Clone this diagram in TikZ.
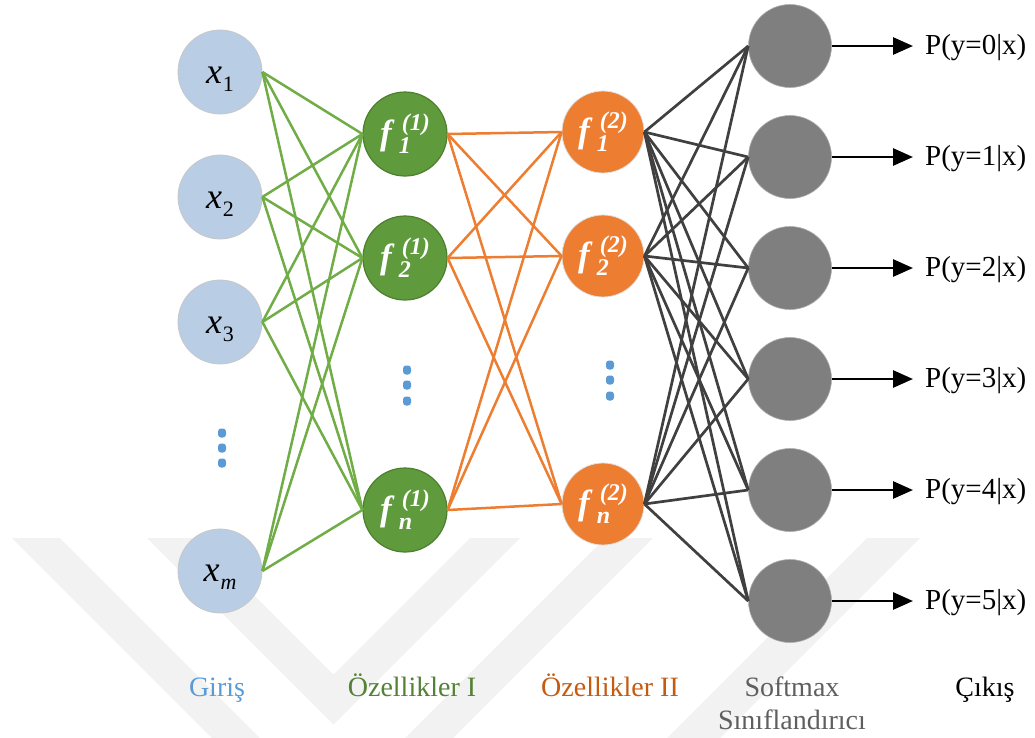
\documentclass[tikz,border=0pt]{standalone}
\usepackage{fontspec}
\setmainfont{Liberation Serif}
\usetikzlibrary{arrows.meta}

\definecolor{inblue}{HTML}{B9CDE5}
\definecolor{fgreen}{HTML}{5F9A3C}
\definecolor{fgreendark}{HTML}{4C7F2E}
\definecolor{lgreen}{HTML}{70AD47}
\definecolor{forange}{HTML}{ED7D31}
\definecolor{sgray}{HTML}{7F7F7F}
\definecolor{dline}{HTML}{404040}
\definecolor{dotblue}{HTML}{5B9BD5}
\definecolor{lblgreen}{HTML}{548235}
\definecolor{lblorange}{HTML}{C55A11}
\definecolor{lblgray}{HTML}{5F5F5F}

% input label x_i
\newcommand{\xin}[1]{{\fontsize{36}{36}\selectfont\itshape x}\kern1pt\raisebox{-8pt}{\fontsize{22}{22}\selectfont #1}}
% feature label f_i^(k)
\newcommand{\feat}[2]{{\fontsize{35}{35}\selectfont\bfseries\itshape f}\kern7pt\rlap{\raisebox{-9pt}{\fontsize{24}{24}\selectfont\bfseries\itshape #1}}\kern3pt\raisebox{14pt}{\fontsize{24}{24}\selectfont\bfseries\itshape (#2)}}

\begin{document}
\begin{tikzpicture}[x=1pt,y=-1pt,
  wm/.style={fill=black!5},
  inp/.style={circle, minimum size=84pt, inner sep=0pt, fill=inblue, draw=black!22, line width=0.8pt, text height=22pt, text depth=0pt},
  inpm/.style={inp, text height=20pt},
  fone/.style={circle, minimum size=84pt, inner sep=0pt, fill=fgreen, draw=fgreendark, line width=1.2pt, text=white},
  ftwo/.style={circle, minimum size=82pt, inner sep=0pt, fill=forange, draw=black!12, line width=0.8pt, text=white},
  soft/.style={circle, minimum size=83pt, inner sep=0pt, fill=sgray, draw=black!32, line width=0.6pt},
  vdot/.style={rounded corners=3pt, minimum width=8pt, minimum height=9pt, inner sep=0pt, fill=dotblue},
  gline/.style={draw=lgreen, line width=2.5pt},
  oline/.style={draw=forange, line width=2.5pt},
  kline/.style={draw=dline, line width=2.7pt},
  outarrow/.style={draw=black, line width=2.8pt, -{Triangle[length=20pt,width=17pt]}},
  plabel/.style={anchor=west, inner sep=0pt, font=\fontsize{29}{29}\selectfont},
  caption/.style={anchor=base, inner sep=0pt, font=\fontsize{28}{33}\selectfont}
]
\useasboundingbox (0,0) rectangle (1035,737);

% faint chevron watermark
\begin{scope}
  \clip (0,0) rectangle (1035,737);
  \fill[wm] (12,538) -- (332.5,858.5) -- (653,538) -- (605,538) -- (332.5,810.5) -- (60,538) -- cycle;
  \fill[wm] (147,538) -- (333.5,724.5) -- (520,538) -- (470,538) -- (333.5,674.5) -- (197,538) -- cycle;
  \fill[wm] (867,538) -- (920,538) -- (670,788) -- (617,788) -- cycle;
\end{scope}

% input layer
\node[inp]  (x1) at (220,72)  {\xin{1}};
\node[inp]  (x2) at (220,197) {\xin{2}};
\node[inp]  (x3) at (220,322) {\xin{3}};
\node[inpm] (xm) at (220,571) {\xin{\itshape m}};
\node[vdot] (xd1) at (222,433) {};
\node[vdot] (xd2) at (222,448) {};
\node[vdot] (xd3) at (222,463) {};

% first feature layer
\node[fone] (a1) at (405,134) {\feat{1}{1}};
\node[fone] (a2) at (405,258) {\feat{2}{1}};
\node[fone] (an) at (405,510) {\feat{n}{1}};
\node[vdot] (ad1) at (407,370) {};
\node[vdot] (ad2) at (407,385) {};
\node[vdot] (ad3) at (407,401) {};

% second feature layer
\node[ftwo] (b1) at (603,132) {\feat{1}{2}};
\node[ftwo] (b2) at (603,256) {\feat{2}{2}};
\node[ftwo] (bn) at (603,504) {\feat{n}{2}};
\node[vdot] (bd1) at (610,365) {};
\node[vdot] (bd2) at (610,380) {};
\node[vdot] (bd3) at (610,396) {};

% softmax layer and outputs
\foreach \k in {0,...,5} {
  \node[soft] (s\k) at (790,{46+111*\k}) {};
  \coordinate (o\k) at (913,{46+111*\k});
  \node[plabel] (p\k) at (925,{48+111*\k}) {P(y=\k|x)};
  \draw[outarrow] (s\k.east) -- (o\k);
}

% connections
\foreach \i in {x1,x2,x3,xm}
  \foreach \j in {a1,a2,an}
    \draw[gline] (\i.east) -- (\j.west);
\foreach \i in {a1,a2,an}
  \foreach \j in {b1,b2,bn}
    \draw[oline] (\i.east) -- (\j.west);
\foreach \i in {b1,b2,bn}
  \foreach \k in {0,...,5}
    \draw[kline] (\i.east) -- (s\k.west);

% layer captions
\node[caption, text=dotblue]    (c1) at (217,696) {Giriş};
\node[caption, text=lblgreen]   (c2) at (412,696) {Özellikler I};
\node[caption, text=lblorange]  (c3) at (610,696) {Özellikler II};
\node[caption, text=lblgray]    (c4) at (792,696) {\begin{tabular}[t]{@{}c@{}}Softmax\\Sınıflandırıcı\end{tabular}};
\node[caption, text=black]      (c5) at (985,696) {Çıkış};
\end{tikzpicture}
\end{document}
